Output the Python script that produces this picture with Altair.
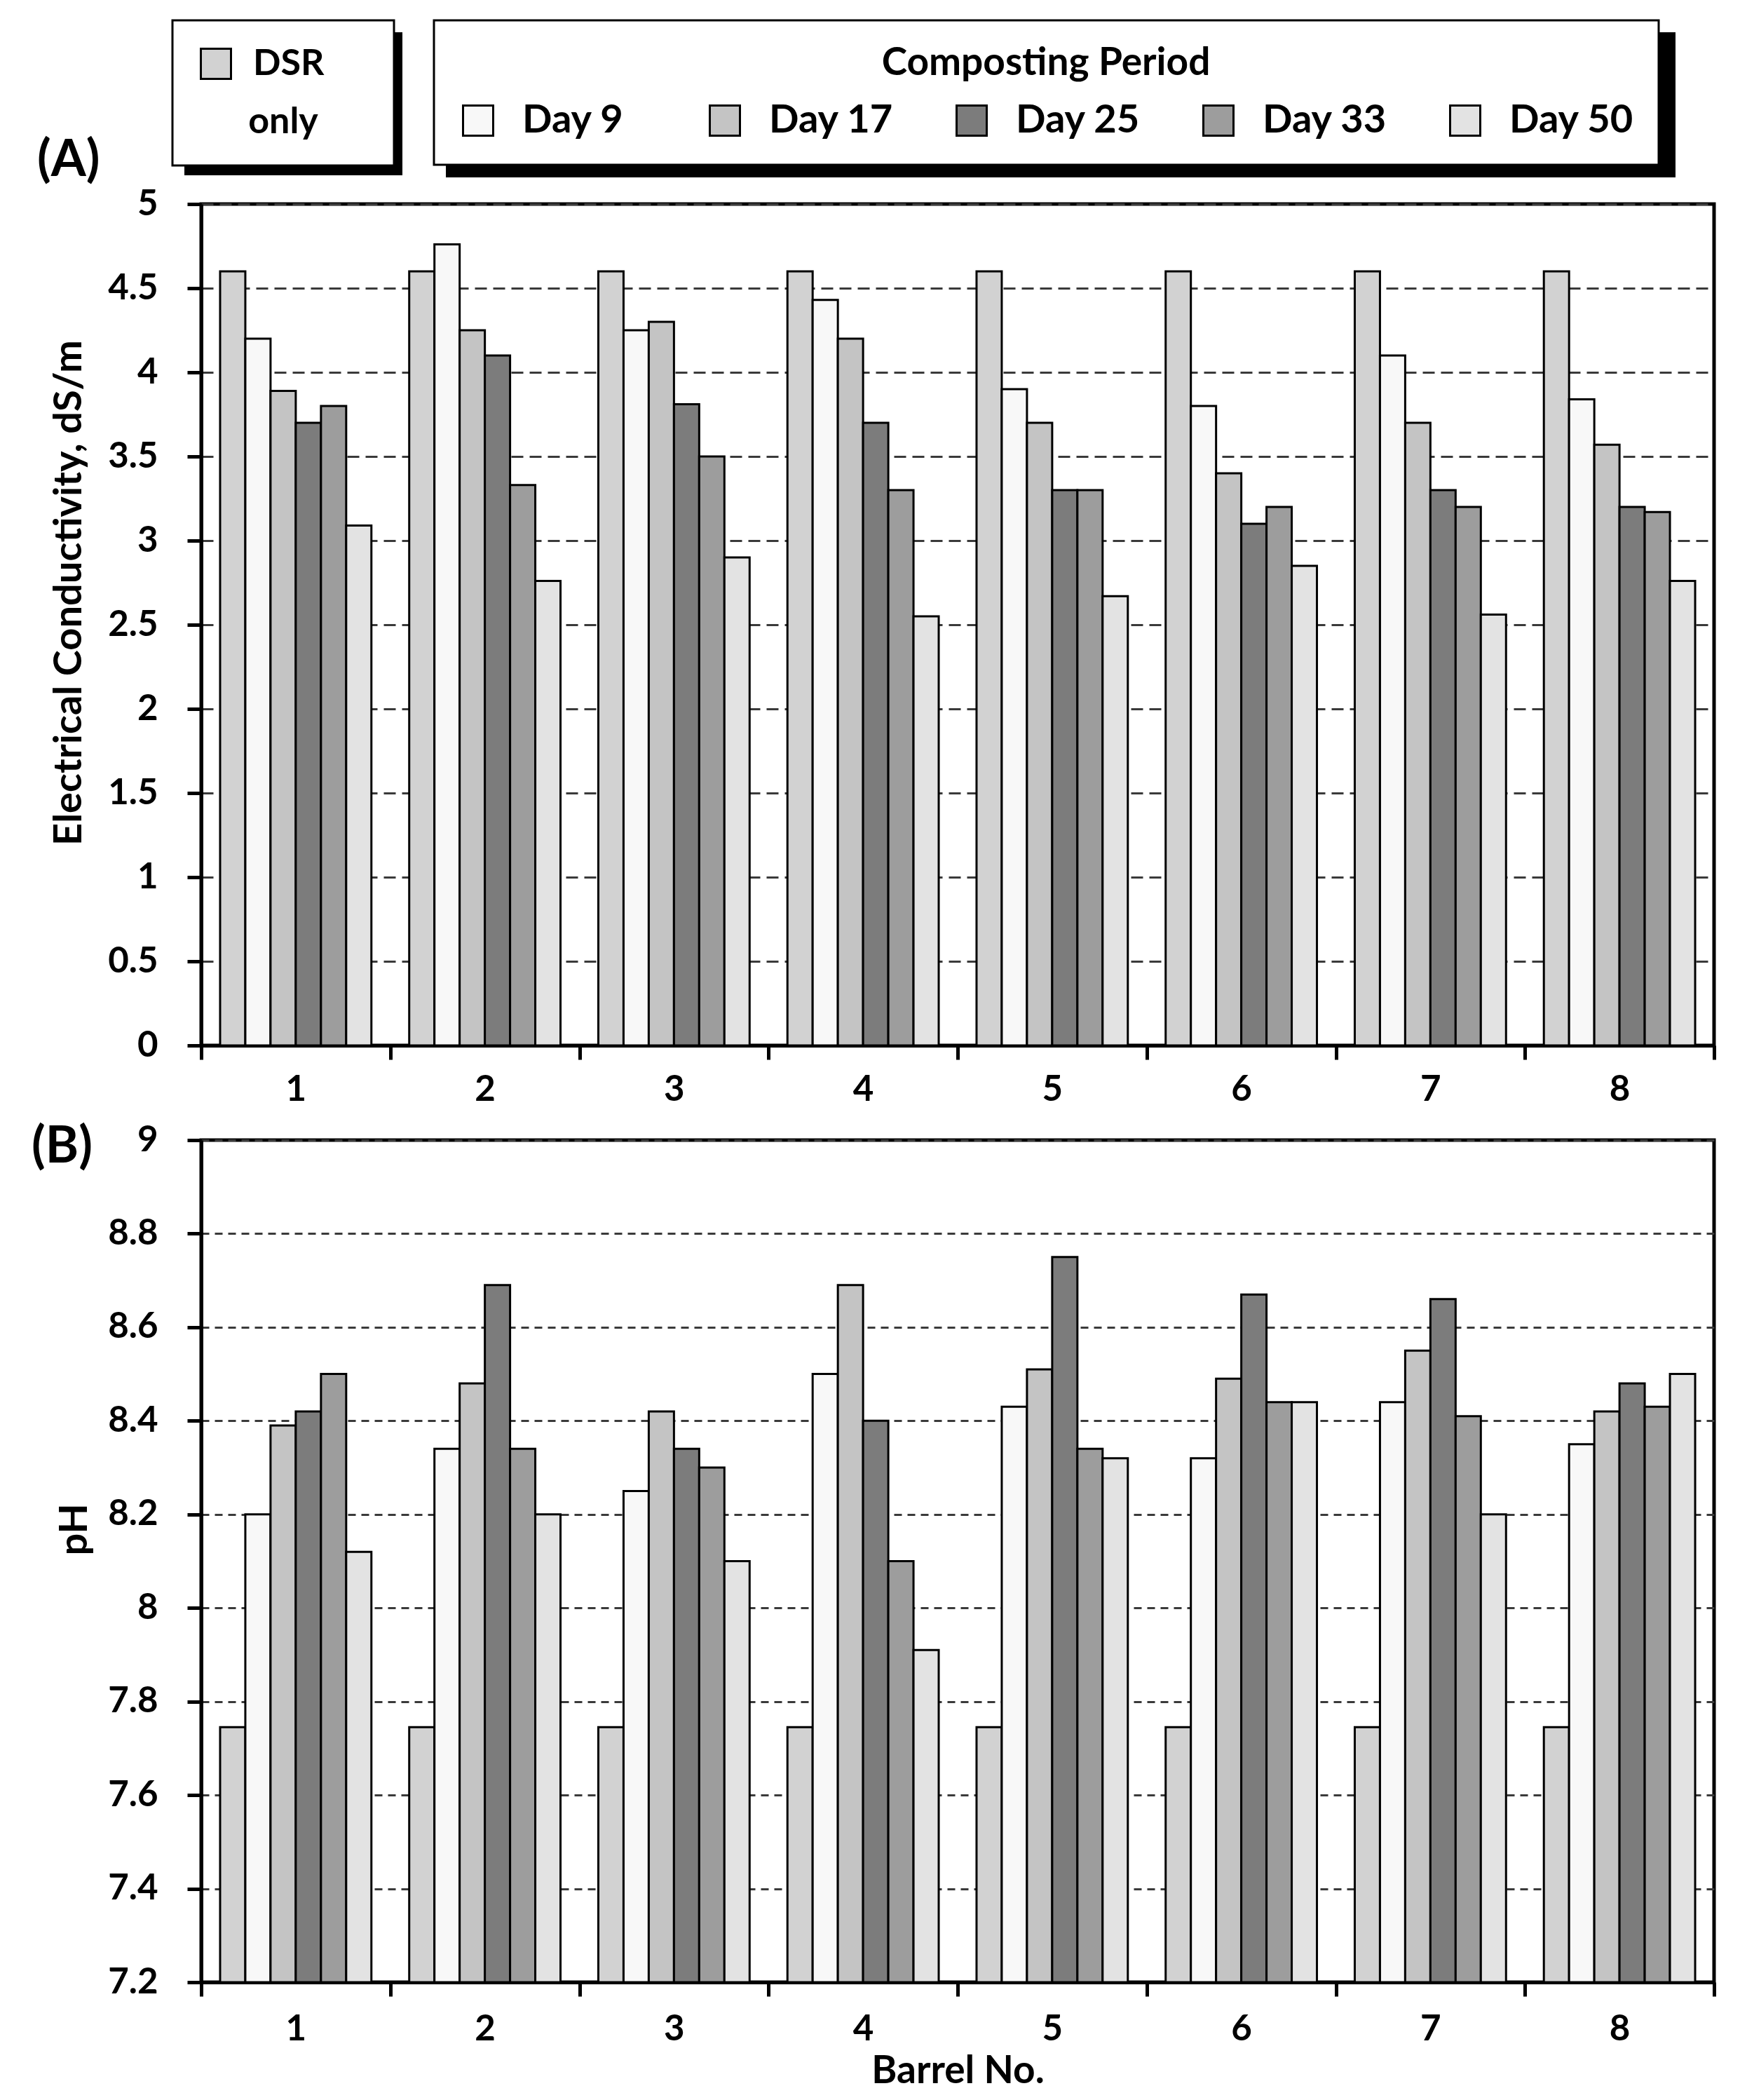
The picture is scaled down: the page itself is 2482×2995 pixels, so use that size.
import altair as alt
import pandas as pd

# ---------------- data ----------------
barrels = ["1", "2", "3", "4", "5", "6", "7", "8"]
series = ["DSR only", "Day 9", "Day 17", "Day 25", "Day 33", "Day 50"]
day_series = ["Day 9", "Day 17", "Day 25", "Day 33", "Day 50"]

ec_dsr = [4.6, 4.6, 4.6, 4.6, 4.6, 4.6, 4.6, 4.6]
ec_day9 = [4.2, 4.76, 4.25, 4.43, 3.9, 3.8, 4.1, 3.84]
ec_day17 = [3.89, 4.25, 4.3, 4.2, 3.7, 3.4, 3.7, 3.57]
ec_day25 = [3.7, 4.1, 3.81, 3.7, 3.3, 3.1, 3.3, 3.2]
ec_day33 = [3.8, 3.33, 3.5, 3.3, 3.3, 3.2, 3.2, 3.17]
ec_day50 = [3.09, 2.76, 2.9, 2.55, 2.67, 2.85, 2.56, 2.76]

ph_dsr = [7.745, 7.745, 7.745, 7.745, 7.745, 7.745, 7.745, 7.745]
ph_day9 = [8.20, 8.34, 8.25, 8.50, 8.43, 8.32, 8.44, 8.35]
ph_day17 = [8.39, 8.48, 8.42, 8.69, 8.51, 8.49, 8.55, 8.42]
ph_day25 = [8.42, 8.69, 8.34, 8.40, 8.75, 8.67, 8.66, 8.48]
ph_day33 = [8.50, 8.34, 8.30, 8.10, 8.34, 8.44, 8.41, 8.43]
ph_day50 = [8.12, 8.20, 8.10, 7.91, 8.32, 8.44, 8.20, 8.50]

ec_ticks = [0, 0.5, 1, 1.5, 2, 2.5, 3, 3.5, 4, 4.5, 5]
ph_ticks = [7.2, 7.4, 7.6, 7.8, 8, 8.2, 8.4, 8.6, 8.8, 9]

ec_title = "Electrical Conductivity, dS/m"
ph_title = "pH"
x_title = "Barrel No."
legend_title = "Composting Period"
panel_labels = ["(A)", "(B)"]
dsr_words = series[0].split(" ")  # ["DSR", "only"]

ec_all = [ec_dsr, ec_day9, ec_day17, ec_day25, ec_day33, ec_day50]
ph_all = [ph_dsr, ph_day9, ph_day17, ph_day25, ph_day33, ph_day50]

rows = []
for s, ev, pv in zip(series, ec_all, ph_all):
    for b, e, p in zip(barrels, ev, pv):
        rows.append({"barrel": b, "series": s, "ec": e, "ph": p})
df = pd.DataFrame(rows)
df_dsr = df[df["series"] == "DSR only"]
df_days = df[df["series"] != "DSR only"]

# ---------------- style ----------------
FONT = "Lato"
W = 2158
H_TOP = 1200
H_BOT = 1201
fills = ["#d2d2d2", "#f8f8f8", "#c4c4c4", "#7c7c7c", "#9d9d9d", "#e3e3e3"]
fill_map = dict(zip(series, fills))

# legend boxes (pixel offsets from the top panel's plot origin)
BOX1 = dict(x=-41, y=-262, w=311, h=204)
BOX2 = dict(x=332, y=-262, w=1754, h=207)
SHADOW = 17
# trailing spacer (kept from being trimmed by a zero-width space) widens the box
SPACER = "\u00a0" * 5 + "\u200b"


def x_enc(title=None, label_pad=18):
    kw = dict(labelAngle=0, tickBand="extent", labelPadding=label_pad, grid=False)
    if title is None:
        kw["title"] = None
    else:
        kw.update(title=title, titleFontSize=55, titlePadding=8)
    return alt.X("barrel:N", sort=barrels,
                 scale=alt.Scale(domain=barrels, paddingInner=0, paddingOuter=0),
                 axis=alt.Axis(**kw))


xoff = alt.XOffset("series:N",
                   scale=alt.Scale(domain=series, paddingInner=0, paddingOuter=0.75))

days_legend = alt.Legend(
    title=legend_title, orient="none", legendX=BOX2["x"], legendY=BOX2["y"],
    direction="horizontal", columns=5, gridAlign="all", columnPadding=83,
    symbolType="square", symbolSize=1849, symbolStrokeColor="black",
    symbolStrokeWidth=3, labelFont=FONT, labelFontSize=56,
    labelFontWeight="bold", labelColor="black", labelOffset=35,
    labelLimit=1000, titleFont=FONT, titleFontSize=55,
    titleFontWeight="bold", titleColor="black", titleAnchor="middle",
    titleLimit=3000, titlePadding=25, padding=35, strokeColor="black",
    fillColor="white", zindex=1)

dsr_legend = alt.Legend(
    title=dsr_words[1], titleOrient="bottom", titleAnchor="middle",
    orient="none", legendX=BOX1["x"], legendY=BOX1["y"],
    symbolType="square", symbolSize=1849, symbolStrokeColor="black",
    symbolStrokeWidth=3, labelFont=FONT, labelFontSize=52,
    labelFontWeight="bold", labelColor="black", labelOffset=27,
    labelLimit=1000,
    labelExpr="split(datum.label, ' ')[0] + '" + SPACER + "'",
    titleFont=FONT, titleFontSize=52, titleFontWeight="bold",
    titleColor="black", titlePadding=30, titleLimit=1000,
    padding=36, strokeColor="black", fillColor="white", zindex=1)

y_top = alt.Y("ec:Q", scale=alt.Scale(domain=[0, 5], nice=False, zero=True),
              axis=alt.Axis(values=ec_ticks, format="~g", title=ec_title,
                            titleFontSize=56, titleX=-160, titleY=554,
                            grid=True, gridDash=[17, 9], labelPadding=42))


def top_layer(data, dom, legend):
    rng = [fill_map[s] for s in dom]
    return alt.Chart(data).mark_bar(stroke="black", strokeWidth=3).encode(
        x=x_enc(), xOffset=xoff, y=y_top, y2=alt.datum(0),
        fill=alt.Fill("series:N", scale=alt.Scale(domain=dom, range=rng),
                      legend=legend))


def shadow_rect(box):
    return alt.Chart(pd.DataFrame({"k": [0]})).mark_rect(color="black").encode(
        x=alt.value(box["x"] + SHADOW), x2=alt.value(box["x"] + box["w"] + SHADOW),
        y=alt.value(box["y"] + SHADOW), y2=alt.value(box["y"] + box["h"] + SHADOW))


def panel_label(text, xv, yv):
    return alt.Chart(pd.DataFrame({"label": [text]})).mark_text(
        font=FONT, fontSize=72, fontWeight="bold", align="left",
        baseline="middle", color="black").encode(
        text="label:N", x=alt.value(xv), y=alt.value(yv))


top = alt.layer(
    shadow_rect(BOX1),
    shadow_rect(BOX2),
    top_layer(df_dsr, ["DSR only"], dsr_legend),
    top_layer(df_days, day_series, days_legend),
    panel_label(panel_labels[0], -234, -62),
).resolve_scale(fill="independent").resolve_legend(fill="independent").properties(
    width=W, height=H_TOP)

y_bot = alt.Y("ph:Q", scale=alt.Scale(domain=[7.2, 9], nice=False, zero=False),
              axis=alt.Axis(values=ph_ticks, format="~g", title=ph_title,
                            titleFontSize=56, titleX=-152, titleY=555,
                            grid=True, gridDash=[11, 8], labelPadding=42))

bars_bot = alt.Chart(df).mark_bar(stroke="black", strokeWidth=3).encode(
    x=x_enc(x_title, 22), xOffset=xoff, y=y_bot, y2=alt.datum(7.2),
    fill=alt.Fill("series:N", scale=alt.Scale(domain=series, range=fills),
                  legend=None))

bottom = alt.layer(bars_bot, panel_label(panel_labels[1], -242, 10)).properties(
    width=W, height=H_BOT)

chart = alt.vconcat(top, bottom, spacing=135, bounds="flush").resolve_scale(
    fill="independent"
).properties(
    padding={"left": 34, "top": 17, "right": 10, "bottom": 2}
).configure_view(
    stroke="black", strokeWidth=5
).configure_legend(
    strokeWidth=3, cornerRadius=0
).configure_axis(
    domainColor="black", domainWidth=5, tickColor="black", tickWidth=5,
    tickSize=20, labelFont=FONT, labelFontSize=51, labelFontWeight="bold",
    labelColor="black", titleFont=FONT, titleFontWeight="bold",
    titleColor="black", gridColor="#3a3a3a", gridWidth=3
)

chart.save("out.html", embed_options={"renderer": "svg", "actions": False})
